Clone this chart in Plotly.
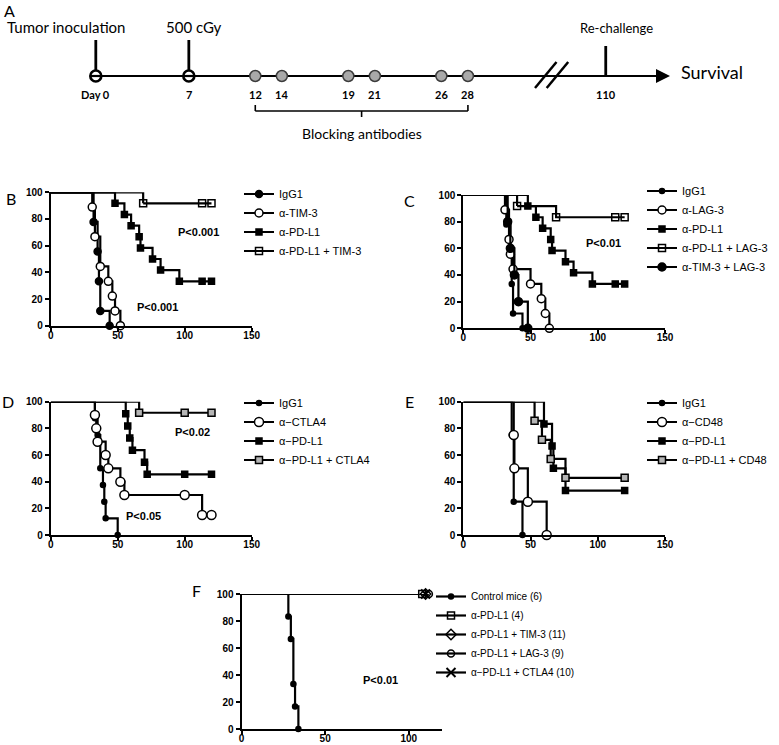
import plotly.graph_objects as go

W, H = 779, 745

# ---------------- DATA ----------------
# Panel A - treatment schedule (days)
inoculation_day = [0]
irradiation_day = [7]
antibody_days = [12, 14, 19, 21, 26, 28]
rechallenge_day = [110]
day_labels = ["Day 0", "7", "12", "14", "19", "21", "26", "28", "110"]

# Panel B (time in days, percent survival)
B_igg1_t = [32, 35, 36, 37, 44]
B_igg1_s = [77.8, 55.6, 33.3, 11.1, 0]
B_tim3_t = [31, 33, 37, 43, 46, 48, 52]
B_tim3_s = [88.9, 66.7, 44.4, 33.3, 22.2, 11.1, 0]
B_pdl1_t = [48, 55, 60, 66, 67, 76, 82, 96, 113, 120]
B_pdl1_s = [91.7, 83.3, 75, 66.7, 58.3, 50, 41.7, 33.3, 33.3, 33.3]
B_combo_t = [69, 113, 120]
B_combo_s = [91.7, 91.7, 91.7]

# Panel C
C_igg1_t = [32, 35, 36, 37, 44]
C_igg1_s = [77.8, 55.6, 33.3, 11.1, 0]
C_lag3_t = [31, 34, 35, 37, 50, 58, 61, 64]
C_lag3_s = [88.9, 66.7, 55.6, 44.4, 33.3, 22.2, 11.1, 0]
C_pdl1_t = [48, 54, 59, 65, 66, 76, 82, 96, 113, 120]
C_pdl1_s = [91.7, 83.3, 75, 66.7, 58.3, 50, 41.7, 33.3, 33.3, 33.3]
C_combo_t = [40, 69, 113, 120]
C_combo_s = [91.7, 83.3, 83.3, 83.3]
C_timlag_t = [33, 35, 38, 41, 48]
C_timlag_s = [80, 60, 40, 20, 0]

# Panel D
D_igg1_t = [33, 35, 37, 39, 40, 41, 50]
D_igg1_s = [87.5, 75, 50, 37.5, 25, 12.5, 0]
D_ctla4_t = [33, 34, 35, 41, 43, 52, 55, 100, 113, 120]
D_ctla4_s = [90, 80, 70, 60, 50, 40, 30, 30, 15, 15]
D_pdl1_t = [56, 57.5, 59, 61, 70, 72, 100, 120]
D_pdl1_s = [90.9, 81.8, 72.7, 63.6, 54.5, 45.5, 45.5, 45.5]
D_combo_t = [66, 100, 120]
D_combo_s = [91.7, 91.7, 91.7]

# Panel E
E_igg1_t = [36, 37.5, 44]
E_igg1_s = [75, 25, 0]
E_cd48_t = [37.5, 38, 48, 62]
E_cd48_s = [75, 50, 25, 0]
E_pdl1_t = [60, 66, 67, 76, 120]
E_pdl1_s = [83.3, 66.7, 50, 33.3, 33.3]
E_combo_t = [53, 58.5, 65, 76, 120]
E_combo_s = [85.7, 71.4, 57.1, 42.9, 42.9]

# Panel F (re-challenge)
F_ctrl_t = [28, 29.5, 31, 32, 34]
F_ctrl_s = [83.3, 66.7, 33.3, 16.7, 0]
F_pdl1_t = [108]
F_pdl1_s = [100]
F_tim3_t = [110]
F_tim3_s = [100]
F_lag3_t = [112]
F_lag3_s = [100]
F_ctla4_t = [110]
F_ctla4_s = [100]

# ---------------- helpers ----------------
ARIAL = "Liberation Sans, Arial, sans-serif"
CAL = "Lato, Open Sans, sans-serif"


def px(x):
    return x / W


def py(y):
    return 1 - y / H


fig = go.Figure()


def km(t, s, name, n, legend, symbol, fill="black", size=7, lw=1.5):
    suffix = "" if n == 1 else str(n)
    # start of the curve: 100 % survival from day 0 to the first event
    fig.add_trace(go.Scatter(
        x=[0, t[0]], y=[100, s[0]], mode="lines", showlegend=False,
        line=dict(shape="hv", color="black", width=2.2),
        xaxis="x" + suffix, yaxis="y" + suffix, legend=legend,
        cliponaxis=False, hoverinfo="skip"))
    fig.add_trace(go.Scatter(
        x=list(t), y=list(s), mode="lines+markers", name=name,
        line=dict(shape="hv", color="black", width=2.2),
        marker=dict(symbol=symbol, size=size, color=fill,
                    line=dict(color="black", width=lw)),
        xaxis="x" + suffix, yaxis="y" + suffix, legend=legend,
        cliponaxis=False, hoverinfo="skip"))


# Panel B
km(B_igg1_t, B_igg1_s, "IgG1", 1, "legend", "circle", "black", 7)
km(B_tim3_t, B_tim3_s, "α-TIM-3", 1, "legend", "circle", "white", 8)
km(B_pdl1_t, B_pdl1_s, "α-PD-L1", 1, "legend", "square", "black", 6)
km(B_combo_t, B_combo_s, "α-PD-L1 + TIM-3", 1, "legend", "square-open", "black", 7)
# Panel C
km(C_igg1_t, C_igg1_s, "IgG1", 2, "legend2", "circle", "black", 5)
km(C_lag3_t, C_lag3_s, "α-LAG-3", 2, "legend2", "circle", "white", 8)
km(C_pdl1_t, C_pdl1_s, "α-PD-L1", 2, "legend2", "square", "black", 6)
km(C_combo_t, C_combo_s, "α-PD-L1 + LAG-3", 2, "legend2", "square-open", "black", 7)
km(C_timlag_t, C_timlag_s, "α-TIM-3 + LAG-3", 2, "legend2", "circle", "black", 8)
# Panel D
km(D_igg1_t, D_igg1_s, "IgG1", 3, "legend3", "circle", "black", 5)
km(D_ctla4_t, D_ctla4_s, "α−CTLA4", 3, "legend3", "circle", "white", 9)
km(D_pdl1_t, D_pdl1_s, "α−PD-L1", 3, "legend3", "square", "black", 6)
km(D_combo_t, D_combo_s, "α−PD-L1 + CTLA4", 3, "legend3", "square", "#b5b5b5", 7)
# Panel E
km(E_igg1_t, E_igg1_s, "IgG1", 4, "legend4", "circle", "black", 5)
km(E_cd48_t, E_cd48_s, "α−CD48", 4, "legend4", "circle", "white", 9)
km(E_pdl1_t, E_pdl1_s, "α−PD-L1", 4, "legend4", "square", "black", 6)
km(E_combo_t, E_combo_s, "α−PD-L1 + CD48", 4, "legend4", "square", "#b5b5b5", 7)
# Panel F
km(F_ctrl_t, F_ctrl_s, "Control mice (6)", 5, "legend5", "circle", "black", 5)
km(F_pdl1_t, F_pdl1_s, "α-PD-L1 (4)", 5, "legend5", "square-open", "black", 7)
km(F_tim3_t, F_tim3_s, "α-PD-L1 + TIM-3 (11)", 5, "legend5", "diamond-open", "black", 8)
km(F_lag3_t, F_lag3_s, "α-PD-L1 + LAG-3 (9)", 5, "legend5", "circle-open", "black", 7)
km(F_ctla4_t, F_ctla4_s, "α−PD-L1 + CTLA4 (10)", 5, "legend5", "x-thin-open", "black", 9, 2)

layout = dict(
    width=W, height=H, margin=dict(l=0, r=0, t=0, b=0, pad=0, autoexpand=False),
    paper_bgcolor="white", plot_bgcolor="white", showlegend=True,
    font=dict(family=ARIAL, color="black"),
)

common = dict(showline=True, linewidth=2, linecolor="black", ticks="outside",
              ticklen=4, tickwidth=2, tickcolor="black", showgrid=False,
              zeroline=False, fixedrange=True, automargin=False,
              tickfont=dict(family=ARIAL, size=10, color="black", weight="bold"))

panels = {
    1: ((50.7, 251.7), (192.3, 325.7), 150, [0, 50, 100, 150]),
    2: ((463.3, 665.0), (195.0, 328.3), 150, [0, 50, 100, 150]),
    3: ((50.7, 251.7), (401.7, 535.0), 150, [0, 50, 100, 150]),
    4: ((463.3, 665.0), (401.7, 535.0), 150, [0, 50, 100, 150]),
    5: ((241.5, 442.3), (594.0, 729.0), 120, [0, 50, 100]),
}
for n, (xr, yr, xmax, xt) in panels.items():
    s = "" if n == 1 else str(n)
    layout["xaxis" + s] = dict(domain=[px(xr[0]), px(xr[1])], range=[0, xmax],
                               tickvals=xt, anchor="y" + s, ticklabelstandoff=-5, **common)
    layout["yaxis" + s] = dict(domain=[py(yr[1]), py(yr[0])], range=[0, 100],
                               tickvals=[0, 20, 40, 60, 80, 100], anchor="x" + s, **common)


def leg(text_x, first_row, rows, size=11):
    # plotly rows are a little further apart than the reference rows:
    # centre the block on the reference rows
    if size >= 11:
        top = first_row - 16.5 - (18 - 16) * (rows - 1) / 2
    else:
        top = first_row - 14 - (19 - 16.5) * (rows - 1) / 2
    return dict(x=px(text_x - 40), xanchor="left", y=py(top), yanchor="top",
                bgcolor="rgba(0,0,0,0)", borderwidth=0, tracegroupgap=0,
                font=dict(family=ARIAL, size=size, color="black"))


layout["legend"] = leg(279, 199, 4)
layout["legend2"] = leg(682, 197, 5)
layout["legend3"] = leg(279, 408, 4)
layout["legend4"] = leg(682, 408, 4)
layout["legend5"] = leg(471, 601, 5, 10)

# ---- Panel A schedule axis (days; compressed after the axis break) ----
A_X0, A_SCALE = 95.8, 13.29          # pixel of day 0, pixels per day
BREAK_SHIFT = 71.63                  # days removed by the axis break
LINE_Y = 76
layout["xaxis6"] = dict(domain=[0, 1], range=[-A_X0 / A_SCALE, (W - A_X0) / A_SCALE],
                        visible=False, fixedrange=True, anchor="y6")
layout["yaxis6"] = dict(domain=[py(170), 1], range=[170, 0], visible=False,
                        fixedrange=True, anchor="x6")
fig.update_layout(**layout)


def disp(d):
    return d - BREAK_SHIFT if d > 50 else d


tip = (670 - A_X0) / A_SCALE
shapes = []
# main time line (below markers)
shapes.append(dict(type="line", xref="x6", yref="y6", x0=disp(inoculation_day[0]), x1=tip - 0.3,
                   y0=LINE_Y, y1=LINE_Y, line=dict(color="black", width=2.2), layer="below"))
# stems
for d, top in [(inoculation_day[0], 40), (irradiation_day[0], 40), (rechallenge_day[0], 46)]:
    shapes.append(dict(type="line", xref="x6", yref="y6", x0=disp(d), x1=disp(d),
                       y0=top, y1=LINE_Y, line=dict(color="black", width=2.8), layer="below"))
# axis break marks
for x0 in (535, 546.7):
    shapes.append(dict(type="line", xref="paper", yref="paper", x0=px(x0), x1=px(x0 + 21.5),
                       y0=py(88), y1=py(62), line=dict(color="black", width=2.5)))
# bracket under antibody days
a0, a1 = antibody_days[0], antibody_days[-1]
mid = (a0 + a1) / 2
shapes += [
    dict(type="line", xref="x6", yref="y6", x0=a0, x1=a1, y0=111, y1=111, line=dict(color="black", width=1.6)),
    dict(type="line", xref="x6", yref="y6", x0=a0, x1=a0, y0=105, y1=111, line=dict(color="black", width=1.6)),
    dict(type="line", xref="x6", yref="y6", x0=a1, x1=a1, y0=105, y1=111, line=dict(color="black", width=1.6)),
    dict(type="line", xref="x6", yref="y6", x0=mid, x1=mid, y0=111, y1=117, line=dict(color="black", width=1.6)),
]
fig.update_layout(shapes=shapes)

# schedule markers
fig.add_trace(go.Scatter(x=inoculation_day + irradiation_day, y=[LINE_Y, LINE_Y], mode="markers",
                         marker=dict(symbol="circle", size=11, color="white", line=dict(color="black", width=2.6)),
                         xaxis="x6", yaxis="y6", showlegend=False, hoverinfo="skip", cliponaxis=False))
fig.add_trace(go.Scatter(x=inoculation_day + irradiation_day, y=[LINE_Y, LINE_Y], mode="markers",
                         marker=dict(symbol="line-ew", size=7, line=dict(color="black", width=2.2)),
                         xaxis="x6", yaxis="y6", showlegend=False, hoverinfo="skip", cliponaxis=False))
fig.add_trace(go.Scatter(x=antibody_days, y=[LINE_Y] * len(antibody_days), mode="markers",
                         marker=dict(symbol="circle", size=11, color="#a9a9a9", line=dict(color="#3c3c3c", width=1.5)),
                         xaxis="x6", yaxis="y6", showlegend=False, hoverinfo="skip", cliponaxis=False))

ann = []
all_days = inoculation_day + irradiation_day + antibody_days + rechallenge_day
for d, lab in zip(all_days, day_labels):
    ann.append(dict(x=disp(d), y=94, xref="x6", yref="y6", text=lab, showarrow=False,
                    font=dict(family=CAL, size=11, color="black", weight="bold")))
# arrow head
ann.append(dict(x=tip, y=LINE_Y, xref="x6", yref="y6", ax=-16, ay=0, text="", showarrow=True,
                arrowhead=2, arrowsize=1.4, arrowwidth=2, arrowcolor="black", standoff=0))


def paper_text(txt, x, y, size, xanchor="center", family=CAL, weight="normal"):
    ann.append(dict(x=px(x), y=py(y), xref="paper", yref="paper", xanchor=xanchor, yanchor="middle",
                    text=txt, showarrow=False,
                    font=dict(family=family, size=size, color="black", weight=weight)))


paper_text("Tumor inoculation", 5, 27, 15, xanchor="left")
paper_text("Survival", 679, 72, 18, xanchor="left")
ann.append(dict(x=disp(irradiation_day[0]), y=27, xref="x6", yref="y6", xshift=5, text="500 cGy",
                showarrow=False, font=dict(family=CAL, size=15, color="black")))
ann.append(dict(x=disp(rechallenge_day[0]), y=28, xref="x6", yref="y6", xshift=11, text="Re-challenge",
                showarrow=False, font=dict(family=CAL, size=13, color="black")))
ann.append(dict(x=mid, y=133, xref="x6", yref="y6", text="Blocking antibodies",
                showarrow=False, font=dict(family=CAL, size=14, color="black")))

# panel letters
for letter, (lx, ly) in {"A": (9, 11), "B": (11, 198), "C": (409, 200), "D": (8, 402),
                         "E": (409, 402), "F": (196, 590)}.items():
    paper_text(letter, lx, ly, 16)

# p-values
pfont = dict(family=ARIAL, size=11, color="black", weight="bold")
for txt, x, y, ax in [("P<0.001", 110, 70, ""), ("P<0.001", 80, 14, ""),
                      ("P<0.01", 104.6, 64, "2"),
                      ("P<0.02", 105.8, 77.5, "3"), ("P<0.05", 69, 14.3, "3"),
                      ("P<0.01", 83, 36.3, "5")]:
    ann.append(dict(x=x, y=y, xref="x" + ax, yref="y" + ax, text=txt, showarrow=False, font=pfont))

fig.update_layout(annotations=ann)
fig.write_html("out.html", config={"displayModeBar": False},
               post_script="document.body.style.margin='0px';")
